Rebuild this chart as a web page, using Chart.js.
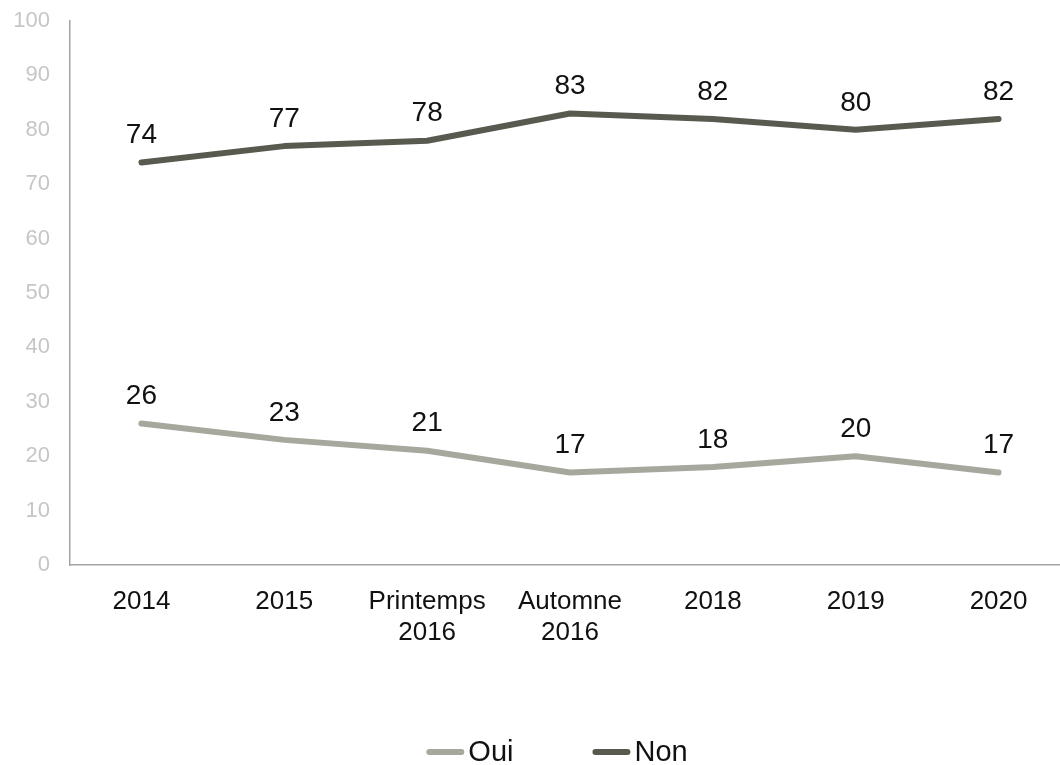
<!DOCTYPE html>
<html lang="fr">
<head>
<meta charset="utf-8">
<title>Oui / Non</title>
<script src="https://cdn.jsdelivr.net/npm/chart.js@4/dist/chart.umd.min.js"></script>
<style>
   html, body { margin: 0; padding: 0; background: #fff; overflow: hidden; }
   canvas { display: block; }
</style>
</head>
<body>
<canvas id="chart" width="1070" height="765"></canvas>
<script>
'use strict';

var categories = ['2014', '2015', ['Printemps', '2016'], ['Automne', '2016'], '2018', '2019', '2020'];
var ouiValues = [26, 23, 21, 17, 18, 20, 17];
var nonValues = [74, 77, 78, 83, 82, 80, 82];
var seriesNames = ['Oui', 'Non'];
var yTicks = [0, 10, 20, 30, 40, 50, 60, 70, 80, 90, 100];

var FONT = 'Arial, "Liberation Sans", sans-serif';

// value printed above every point
var valueLabels = {
   id: 'valueLabels',
   afterDatasetsDraw: function (chart) {
      var ctx = chart.ctx;
      ctx.save();
      ctx.font = '28px ' + FONT;
      ctx.fillStyle = '#111';
      ctx.textAlign = 'center';
      ctx.textBaseline = 'middle';
      chart.data.datasets.forEach(function (ds, i) {
         chart.getDatasetMeta(i).data.forEach(function (pt, j) {
            ctx.fillText(ds.data[j], pt.x, pt.y - 27);
         });
      });
      ctx.restore();
   }
};

// line + name legend under the chart
var lineLegend = {
   id: 'lineLegend',
   afterDraw: function (chart) {
      var ctx = chart.ctx;
      var lineLen = 38, gap = 4, spacing = 79, y = 752;
      ctx.save();
      ctx.font = '29px ' + FONT;
      ctx.textBaseline = 'middle';
      var items = chart.data.datasets.map(function (ds) {
         return { ds: ds, w: lineLen + gap + ctx.measureText(ds.label).width };
      });
      var total = items.reduce(function (s, it) { return s + it.w; }, 0) + spacing * (items.length - 1);
      var x = 557 - total / 2;
      items.forEach(function (it) {
         ctx.strokeStyle = it.ds.borderColor;
         ctx.lineWidth = 6;
         ctx.lineCap = 'round';
         ctx.beginPath();
         ctx.moveTo(x + 3, y);
         ctx.lineTo(x + lineLen - 3, y);
         ctx.stroke();
         ctx.fillStyle = '#111';
         ctx.fillText(it.ds.label, x + lineLen + gap, y + 1);
         x += it.w + spacing;
      });
      ctx.restore();
   }
};

new Chart(document.getElementById('chart'), {
   type: 'line',
   data: {
      labels: categories,
      datasets: [{
         label: seriesNames[0],
         data: ouiValues,
         borderColor: '#a6a89d',
         backgroundColor: '#a6a89d'
      }, {
         label: seriesNames[1],
         data: nonValues,
         borderColor: '#585a4f',
         backgroundColor: '#585a4f'
      }]
   },
   options: {
      responsive: false,
      animation: false,
      layout: { padding: { top: 21, right: 0, bottom: 100, left: 0 } },
      elements: {
         line: { borderWidth: 6, tension: 0, borderCapStyle: 'round', borderJoinStyle: 'round' },
         point: { radius: 0, hoverRadius: 0 }
      },
      plugins: {
         legend: { display: false },
         tooltip: { enabled: false }
      },
      scales: {
         x: {
            offset: true,
            grid: { display: false, drawTicks: false },
            border: { display: true, color: '#a3a3a3', width: 1.5 },
            ticks: { color: '#111', font: { family: FONT, size: 26 }, padding: 21, maxRotation: 0, autoSkip: false },
            afterFit: function (scale) {
               scale.height = 100;
               scale.paddingLeft = 0;
               scale.paddingRight = 0;
            }
         },
         y: {
            min: 0,
            max: 100,
            grid: { display: false, drawTicks: false },
            border: { display: true, color: '#a3a3a3', width: 1.5 },
            ticks: { color: '#c6c6c6', font: { family: FONT, size: 22 }, padding: 20, stepSize: 10 },
            afterBuildTicks: function (scale) {
               scale.ticks = yTicks.map(function (v) { return { value: v }; });
            },
            afterFit: function (scale) {
               scale.width = 70;
               scale.paddingTop = 0;
               scale.paddingBottom = 0;
            }
         }
      }
   },
   plugins: [valueLabels, lineLegend]
});
</script>
</body>
</html>
